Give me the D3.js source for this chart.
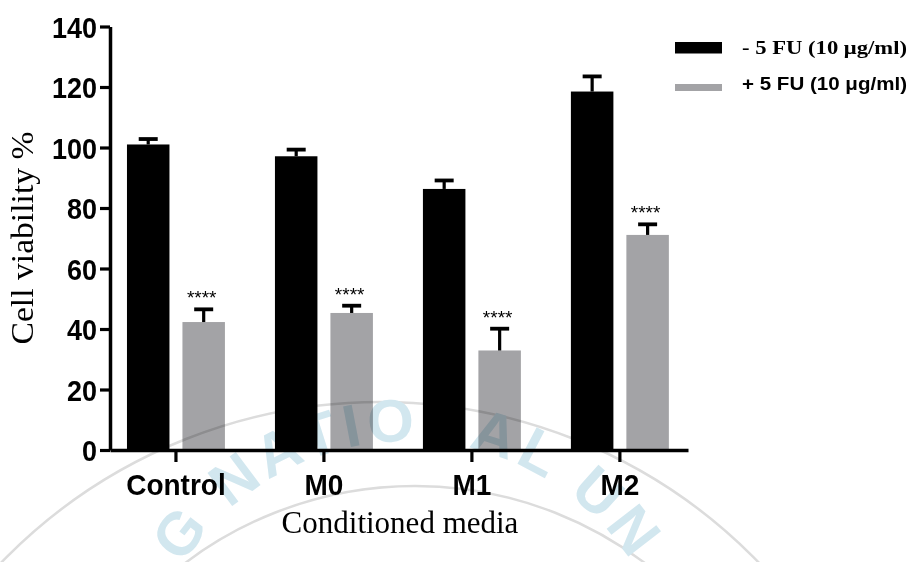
<!DOCTYPE html>
<html>
<head>
<meta charset="utf-8">
<script src="https://cdn.jsdelivr.net/npm/d3@7"></script>
<style>
  html, body { margin: 0; padding: 0; background: #fff; }
  svg { display: block; }
</style>
</head>
<body>
<svg id="chart" width="914" height="562"></svg>
<script>
// Cell viability (%) with and without 5-FU, per conditioned medium
const categories = ["Control", "M0", "M1", "M2"];
const seriesNames = ["- 5 FU (10 \u03BCg/ml)", "+ 5 FU (10 \u03BCg/ml)"];
const withoutFU = [101.0, 97.1, 86.3, 118.5];
const withoutFUErr = [1.8, 2.2, 2.8, 5.0];
const withFU = [42.3, 45.3, 32.9, 71.1];
const withFUErr = [4.2, 2.4, 7.2, 3.5];
const significance = ["****", "****", "****", "****"];
const yTicks = [0, 20, 40, 60, 80, 100, 120, 140];
// visible part of the background seal lettering
const sealText = "G NATIONAL UN";

const svg = d3.select("#chart");
const sans = "'Liberation Sans', Arial, Helvetica, sans-serif";
const serif = "'Liberation Serif', 'Times New Roman', Times, serif";
const barColors = ["#000000", "#a3a3a6"];

const rows = categories.map((c, i) => ({
  cat: c,
  bars: [
    { key: 0, value: withoutFU[i], err: withoutFUErr[i] },
    { key: 1, value: withFU[i], err: withFUErr[i], star: significance[i] }
  ]
}));

const x0 = d3.scaleBand().domain(categories).range([110, 688])
  .paddingInner(0.338).paddingOuter(0.122).align(0.47);
const x1 = d3.scaleBand().domain([0, 1]).range([0, x0.bandwidth()]).paddingInner(0.234);
const y = d3.scaleLinear().domain([0, 140]).range([450, 26.5]);

// bars
const groups = svg.append("g").selectAll("g").data(rows).join("g")
  .attr("transform", d => `translate(${x0(d.cat)},0)`);

groups.selectAll("rect").data(d => d.bars).join("rect")
  .attr("x", d => x1(d.key))
  .attr("y", d => y(d.value))
  .attr("width", x1.bandwidth())
  .attr("height", d => y(0) - y(d.value))
  .attr("fill", d => barColors[d.key]);

// upper error bars
const capW = 19;
groups.selectAll("line.stem").data(d => d.bars).join("line")
  .attr("class", "stem")
  .attr("x1", d => x1(d.key) + x1.bandwidth() / 2)
  .attr("x2", d => x1(d.key) + x1.bandwidth() / 2)
  .attr("y1", d => y(d.value))
  .attr("y2", d => y(d.value + d.err))
  .attr("stroke", "#000").attr("stroke-width", 3.2);
groups.selectAll("line.cap").data(d => d.bars).join("line")
  .attr("class", "cap")
  .attr("x1", d => x1(d.key) + x1.bandwidth() / 2 - capW / 2)
  .attr("x2", d => x1(d.key) + x1.bandwidth() / 2 + capW / 2)
  .attr("y1", d => y(d.value + d.err))
  .attr("y2", d => y(d.value + d.err))
  .attr("stroke", "#000").attr("stroke-width", 3.8);

// significance marks
groups.selectAll("text.star").data(d => d.bars.filter(b => b.star)).join("text")
  .attr("class", "star")
  .attr("x", d => x1(d.key) + x1.bandwidth() / 2 - 2)
  .attr("y", d => y(d.value + d.err) - 5)
  .attr("text-anchor", "middle")
  .attr("font-family", sans).attr("font-size", 19)
  .attr("fill", "#000")
  .text(d => d.star);

// faint university seal in the background (multiplied over the bars)
const seal = svg.append("g").style("mix-blend-mode", "multiply").attr("pointer-events", "none");
seal.append("circle").attr("cx", 380).attr("cy", 929).attr("r", 527)
  .attr("fill", "none").attr("stroke", "#dcdcdc").attr("stroke-width", 2.5);
seal.append("circle").attr("cx", 415).attr("cy", 867).attr("r", 381)
  .attr("fill", "none").attr("stroke", "#dcdcdc").attr("stroke-width", 2.5);

const sealCx = 408, sealCy = 708, sealR = 267;
const arcStart = -80 * Math.PI / 180, arcEnd = 80 * Math.PI / 180;
const arcPt = a => [sealCx + sealR * Math.sin(a), sealCy - sealR * Math.cos(a)];
const p0 = arcPt(arcStart), p1 = arcPt(arcEnd);
svg.append("defs").append("path").attr("id", "sealArc")
  .attr("d", `M${p0[0]},${p0[1]} A${sealR},${sealR} 0 0 1 ${p1[0]},${p1[1]}`);
seal.append("text")
  .attr("font-family", sans).attr("font-weight", "bold").attr("font-size", 60)
  .attr("letter-spacing", 5)
  .attr("fill", "#d2e7ef")
  .append("textPath")
  .attr("href", "#sealArc")
  .attr("startOffset", 104)
  .text(sealText);

// axes
const yAxis = svg.append("g").attr("transform", "translate(110,0)")
  .call(d3.axisLeft(y).tickValues(yTicks).tickSize(10).tickSizeOuter(0).tickPadding(3));
const xAxis = svg.append("g").attr("transform", `translate(0,${y(0)})`)
  .call(d3.axisBottom(x0).tickSize(12).tickSizeOuter(0));

[yAxis, xAxis].forEach(ax => {
  ax.select(".domain").attr("stroke", "#000").attr("stroke-width", 3.5);
  ax.selectAll(".tick line").attr("stroke", "#000").attr("stroke-width", 3.2);
  ax.selectAll(".tick text")
    .attr("font-family", sans).attr("font-weight", "bold").attr("fill", "#000");
});
yAxis.selectAll(".tick text")
  .attr("font-size", 27).attr("y", 9.6).attr("dy", 0)
  .attr("transform", "scale(1,1.12)");
xAxis.selectAll(".tick text")
  .attr("font-size", 28).attr("y", 41.7).attr("dy", 0)
  .attr("transform", "scale(1,1.08)");

// axis titles
svg.append("text")
  .attr("transform", "translate(33,238) rotate(-90)")
  .attr("text-anchor", "middle")
  .attr("font-family", serif).attr("font-size", 32)
  .attr("textLength", 213).attr("lengthAdjust", "spacingAndGlyphs")
  .attr("fill", "#000")
  .text("Cell viability %");

svg.append("text")
  .attr("x", 400).attr("y", 533)
  .attr("text-anchor", "middle")
  .attr("font-family", serif).attr("font-size", 31)
  .attr("fill", "#000")
  .text("Conditioned media");

// legend
const legend = svg.append("g");
const legendRows = [
  { name: seriesNames[0], color: barColors[0], ry: 42, rh: 11.5, ty: 53.5, font: serif },
  { name: seriesNames[1], color: barColors[1], ry: 84, rh: 7, ty: 90, font: sans }
];
legendRows.forEach(r => {
  legend.append("rect").attr("x", 675).attr("y", r.ry).attr("width", 47).attr("height", r.rh)
    .attr("fill", r.color);
  legend.append("text").attr("x", 742).attr("y", r.ty)
    .attr("font-family", r.font).attr("font-weight", "bold").attr("font-size", 18)
    .attr("textLength", 165).attr("lengthAdjust", "spacingAndGlyphs")
    .attr("fill", "#000")
    .text(r.name);
});
</script>
</body>
</html>
